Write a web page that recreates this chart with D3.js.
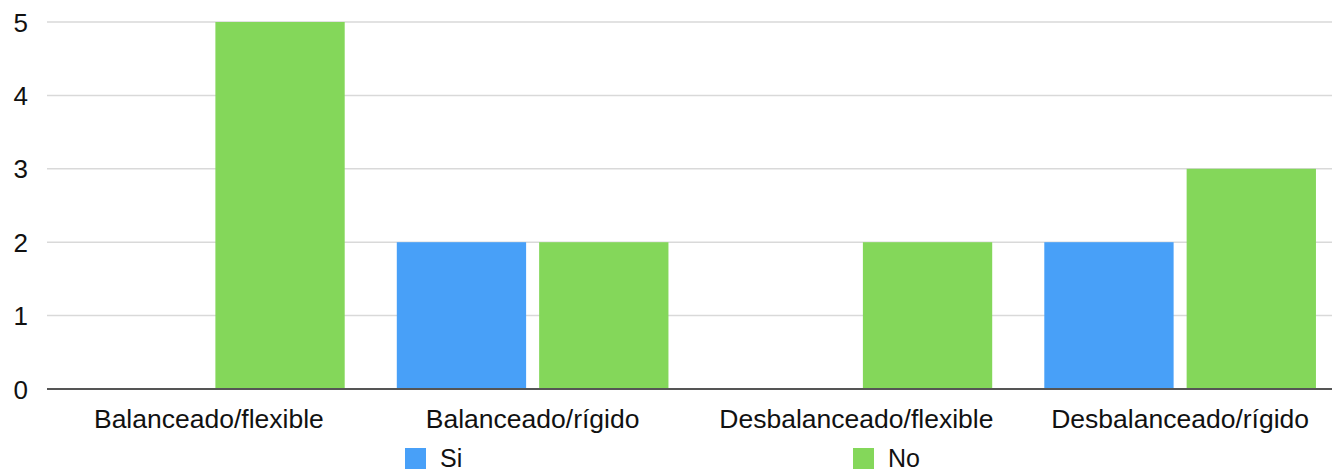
<!DOCTYPE html>
<html>
<head>
<meta charset="utf-8">
<script src="https://cdn.jsdelivr.net/npm/d3@7"></script>
<style>
  html, body { margin: 0; padding: 0; background: #fff; }
  svg { display: block; }
  text { font-family: "Liberation Sans", Arial, Helvetica, sans-serif; fill: #111; }
</style>
</head>
<body>
<svg id="chart" width="1332" height="473"></svg>
<script>
const categories = ["Balanceado/flexible", "Balanceado/rígido", "Desbalanceado/flexible", "Desbalanceado/rígido"];
const seriesNames = ["Si", "No"];
const siValues = [0, 2, 0, 2];
const noValues = [5, 2, 2, 3];
const yTicks = [0, 1, 2, 3, 4, 5];
const colors = ["#48a0f8", "#84d75a"];

const svg = d3.select("#chart");
const plotLeft = 47, plotRight = 1342, plotTop = 22, plotBottom = 389;

const x0 = d3.scaleBand().domain(categories).range([plotLeft, plotRight]).paddingInner(0).paddingOuter(0);
const x1 = d3.scaleBand().domain(seriesNames).range([0, x0.bandwidth()]).paddingInner(0.0915).paddingOuter(0.183);
const y = d3.scaleLinear().domain([0, 5]).range([plotBottom, plotTop]);
const color = d3.scaleOrdinal().domain(seriesNames).range(colors);

// gridlines
svg.append("g").selectAll("line").data(yTicks.filter(d => d > 0)).join("line")
  .attr("x1", plotLeft).attr("x2", plotRight)
  .attr("y1", d => y(d)).attr("y2", d => y(d))
  .attr("stroke", "#d9d9d9").attr("stroke-width", 1.5);

// y labels
const yAxis = d3.axisLeft(y).tickValues(yTicks).tickSize(0).tickPadding(0).tickFormat(d3.format("d"));
const yg = svg.append("g").attr("transform", `translate(${plotLeft - 19},0)`).call(yAxis);
yg.select(".domain").remove();
yg.selectAll("text").attr("font-size", 26).attr("font-family", "Liberation Sans, Arial, sans-serif").attr("fill", "#111").attr("dy", "0.35em");

// bars
const rows = categories.map((c, i) => ({ cat: c, vals: [{ s: "Si", v: siValues[i] }, { s: "No", v: noValues[i] }] }));
const groups = svg.append("g").selectAll("g").data(rows).join("g")
  .attr("transform", d => `translate(${x0(d.cat)},0)`);
groups.selectAll("rect").data(d => d.vals.filter(e => e.v > 0)).join("rect")
  .attr("x", d => x1(d.s))
  .attr("width", x1.bandwidth())
  .attr("y", d => y(d.v))
  .attr("height", d => y(0) - y(d.v))
  .attr("fill", d => color(d.s));

// x axis
const xAxis = d3.axisBottom(x0).tickSize(0).tickPadding(0);
const xg = svg.append("g").attr("transform", `translate(0,${plotBottom})`).call(xAxis);
xg.select(".domain").remove();
xg.selectAll("text").attr("font-size", 26.5).attr("font-family", "Liberation Sans, Arial, sans-serif").attr("fill", "#111").attr("dy", 0).attr("y", 39);
svg.append("line").attr("x1", plotLeft).attr("x2", plotRight).attr("y1", y(0)).attr("y2", y(0))
  .attr("stroke", "#555").attr("stroke-width", 2);

// legend
const legendX = [405, 853];
const lg = svg.append("g").selectAll("g").data(seriesNames).join("g")
  .attr("transform", (d, i) => `translate(${legendX[i]},448)`);
lg.append("rect").attr("width", 21).attr("height", 21).attr("fill", d => color(d));
lg.append("text").attr("x", 35).attr("y", 19).attr("font-size", 25).text(d => d);
</script>
</body>
</html>
